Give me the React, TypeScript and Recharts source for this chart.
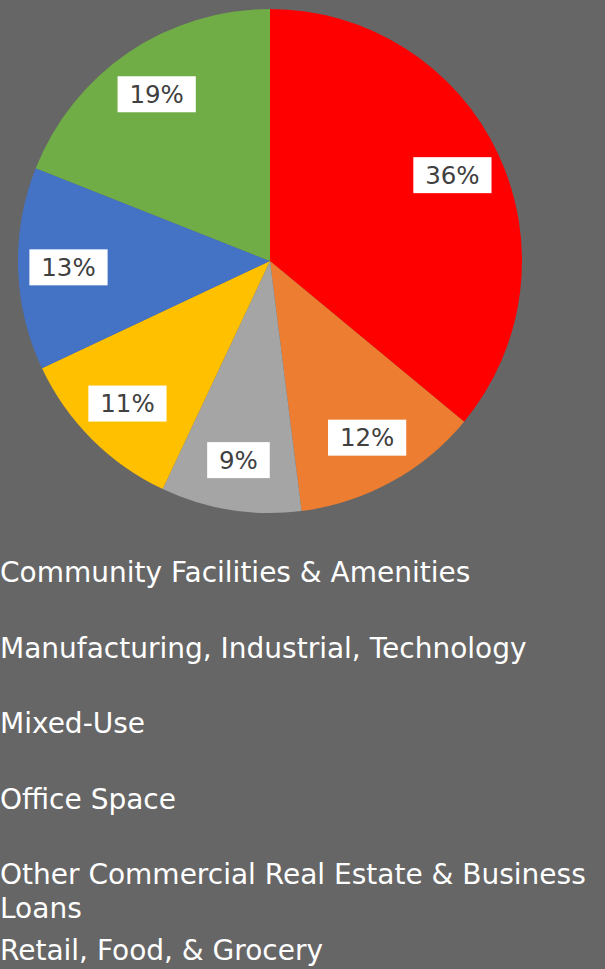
import { PieChart, Pie, Cell, Legend } from 'recharts'

document.body.style.margin = '0'
document.body.style.background = '#666666'

const categories = [
  'Community Facilities & Amenities',
  'Manufacturing, Industrial, Technology',
  'Mixed-Use',
  'Office Space',
  'Other Commercial Real Estate & Business Loans',
  'Retail, Food, & Grocery',
]

const shares = [36, 12, 9, 11, 13, 19]

const COLORS = ['#FF0000', '#ED7D31', '#A5A5A5', '#FFC000', '#4472C4', '#70AD47']

const data = categories.map((name, i) => ({ name, value: shares[i] }))

const RAD = Math.PI / 180

function PctLabel(props: any) {
  const { cx, cy, midAngle, outerRadius, percent } = props
  const r = outerRadius * 0.8
  const x = cx + r * Math.cos(-midAngle * RAD)
  const y = cy + r * Math.sin(-midAngle * RAD)
  const text = `${Math.round(percent * 100)}%`
  const w = (text.length - 1) * 15.6 + 23 + 24
  const h = 36
  return (
    <g>
      <rect x={x - w / 2} y={y - h / 2} width={w} height={h} fill="#FFFFFF" />
      <text
        x={x}
        y={y}
        textAnchor="middle"
        dominantBaseline="central"
        fill="#404040"
        fontSize={24.5}
        fontFamily="DejaVu Sans"
      >
        {text}
      </text>
    </g>
  )
}

function LegendList() {
  return (
    <div style={{ fontFamily: 'DejaVu Sans', fontSize: 28, color: '#FFFFFF' }}>
      {categories.map((c) => (
        <div key={c} style={{ height: 75.5, lineHeight: '34px', width: 600 }}>
          {c}
        </div>
      ))}
    </div>
  )
}

export default function App() {
  return (
    <div style={{ width: 605, height: 969, background: '#666666', overflow: 'hidden' }}>
      <PieChart width={605} height={969} margin={{ top: 0, right: 0, bottom: 0, left: 0 }}>
        <Pie
          data={data}
          dataKey="value"
          nameKey="name"
          cx={270}
          cy={261}
          outerRadius={252}
          startAngle={90}
          endAngle={-270}
          stroke="none"
          labelLine={false}
          label={PctLabel}
          isAnimationActive={false}
        >
          {data.map((d, i) => (
            <Cell key={d.name} fill={COLORS[i]} />
          ))}
        </Pie>
        <Legend
          content={<LegendList />}
          wrapperStyle={{ position: 'absolute', top: 556, left: 0, width: 600 }}
        />
      </PieChart>
    </div>
  )
}
